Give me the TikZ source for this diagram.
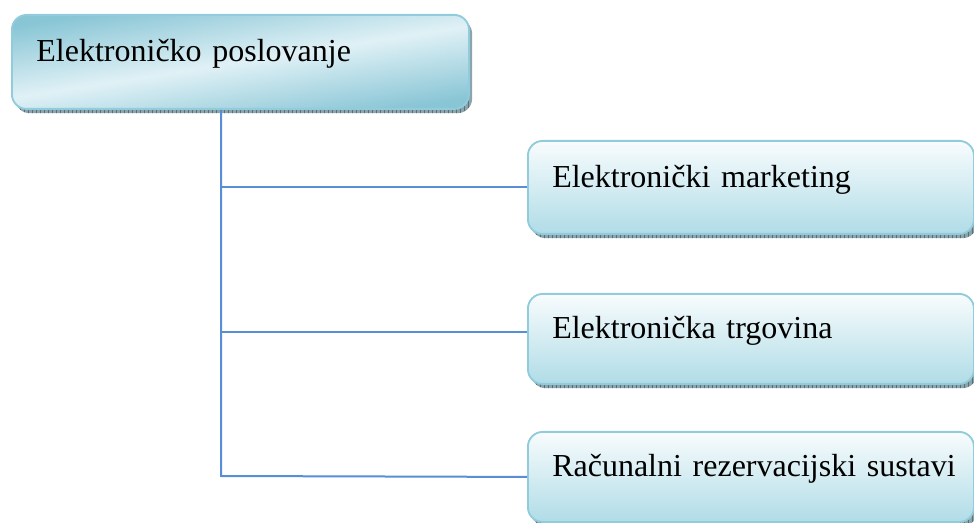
\documentclass[tikz,border=0pt]{standalone}
\usepackage{fontspec}
\setmainfont{Liberation Serif}
\usetikzlibrary{shadows,patterns}

\definecolor{boxedge}{RGB}{146,204,220}
\definecolor{deepblue}{RGB}{136,197,213}
\definecolor{paleblue}{RGB}{224,241,246}
\definecolor{childtop}{RGB}{248,252,253}
\definecolor{childbot}{RGB}{176,220,231}
\definecolor{shadowfill}{RGB}{140,165,172}
\definecolor{shadowtick}{RGB}{90,112,120}
\definecolor{connblue}{RGB}{88,142,213}

\tikzset{
  boxbase/.style={
    draw=boxedge, line width=1.4pt, rounded corners=11pt,
    anchor=north west, align=left, inner xsep=18pt, inner ysep=0pt,
    font=\fontsize{24}{28}\selectfont, text height=10pt, text depth=10pt,
    general shadow={fill=shadowfill, shadow xshift=2.4pt, shadow yshift=-3.2pt},
    general shadow={pattern=vertical lines, pattern color=shadowtick,
                    shadow xshift=2.4pt, shadow yshift=-3.2pt}
  },
  rootbox/.style={boxbase, shade,
    top color=deepblue, bottom color=deepblue, middle color=paleblue,
    shading angle=9,
    minimum width=342.75pt, text width=306pt, minimum height=70.5pt},
  childbox/.style={boxbase, shade, top color=childtop, bottom color=childbot,
    minimum width=334.5pt, text width=298pt},
  conn/.style={draw=connblue, line width=1.5pt}
}

\begin{document}
\begin{tikzpicture}[x=0.75pt, y=-0.75pt]
  \useasboundingbox (0,0) rectangle (974,523);
  \clip (0,0) rectangle (974,523);

  % parent box
  \node[rootbox] (root) at (11,14) {\mbox{Elektroničko poslovanje}};

  % child boxes
  \node[childbox, minimum height=69.75pt] (c1) at (527,140) {\mbox{Elektronički marketing}};
  \node[childbox, minimum height=67.5pt]  (c2) at (527,293) {\mbox{Elektronička trgovina}};
  \node[childbox, minimum height=67.5pt]  (c3) at (527,431) {\mbox{Računalni rezervacijski sustavi}};

  % tree connectors
  \coordinate (trunk) at (221,476);
  \coordinate (c2in) at ([yshift=5.25pt]c2.west);
  \draw[conn] (trunk |- root.south) -- (trunk) -- (c3.west);
  \draw[conn] (trunk |- c1.west) -- (c1.west);
  \draw[conn] (trunk |- c2in) -- (c2in);
\end{tikzpicture}
\end{document}
